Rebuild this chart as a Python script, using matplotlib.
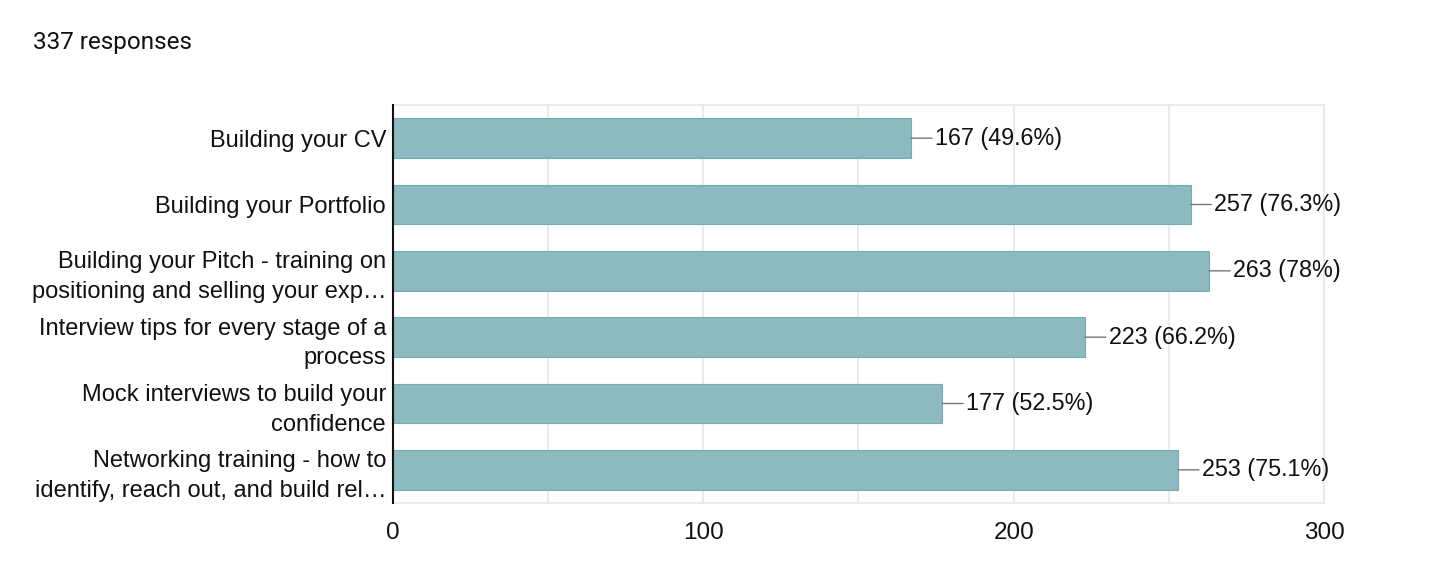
import matplotlib
matplotlib.use("Agg")
import matplotlib.pyplot as plt

categories = [
    "Building your CV",
    "Building your Portfolio",
    "Building your Pitch - training on\npositioning and selling your exp\u2026",
    "Interview tips for every stage of a\nprocess",
    "Mock interviews to build your\nconfidence",
    "Networking training - how to\nidentify, reach out, and build rel\u2026",
]
counts = [167, 257, 263, 223, 177, 253]
percents = ["49.6%", "76.3%", "78%", "66.2%", "52.5%", "75.1%"]
total_responses = 337
xticks = [0, 100, 200, 300]

plt.rcParams['font.family'] = ['Liberation Sans', 'DejaVu Sans']

fig = plt.figure(figsize=(14.56, 5.86), dpi=100)
ax = fig.add_axes([393/1456, 1-503/586, (1324-393)/1456, (503-105)/586])

ypos = list(range(len(categories)))
ax.barh(ypos, counts, height=0.6, color="#8cbabe", edgecolor="#74acb0", linewidth=0.8, zorder=3)

for y, c, p in zip(ypos, counts, percents):
    ax.annotate(f"{c} ({p})", xy=(c, y), xytext=(17, 0), textcoords="offset points",
                ha="left", va="center", fontsize=16.8, color="#111111",
                arrowprops=dict(arrowstyle="-", color="#777777", lw=1.0,
                                shrinkA=0, shrinkB=0))

ax.set_xlim(0, 300)
ax.set_ylim(len(categories) - 0.5, -0.5)
ax.set_yticks(ypos)
ax.set_yticklabels(categories, fontsize=17, color="#111111", linespacing=1.45)
ax.set_xticks(xticks)
ax.set_xticklabels([str(t) for t in xticks], fontsize=17.5, color="#111111")
ax.set_xticks([50, 150, 250], minor=True)
ax.tick_params(axis="both", which="both", length=0)
ax.tick_params(axis="y", pad=5)
ax.tick_params(axis="x", pad=14)
ax.grid(axis="x", which="both", color="#e8e8e8", linewidth=1.2, zorder=0)

for side in ["top", "right", "bottom"]:
    ax.spines[side].set_color("#e8e8e8")
    ax.spines[side].set_linewidth(1.2)
ax.spines["left"].set_color("#111111")
ax.spines["left"].set_linewidth(1.5)
ax.spines["left"].set_zorder(4)

fig.text(33/1456, 1-43/586, f"{total_responses} responses", fontsize=17.5,
         family=["Roboto", "DejaVu Sans"], color="#111111", ha="left", va="center")

fig.savefig("out.png", dpi=100, facecolor="white")
